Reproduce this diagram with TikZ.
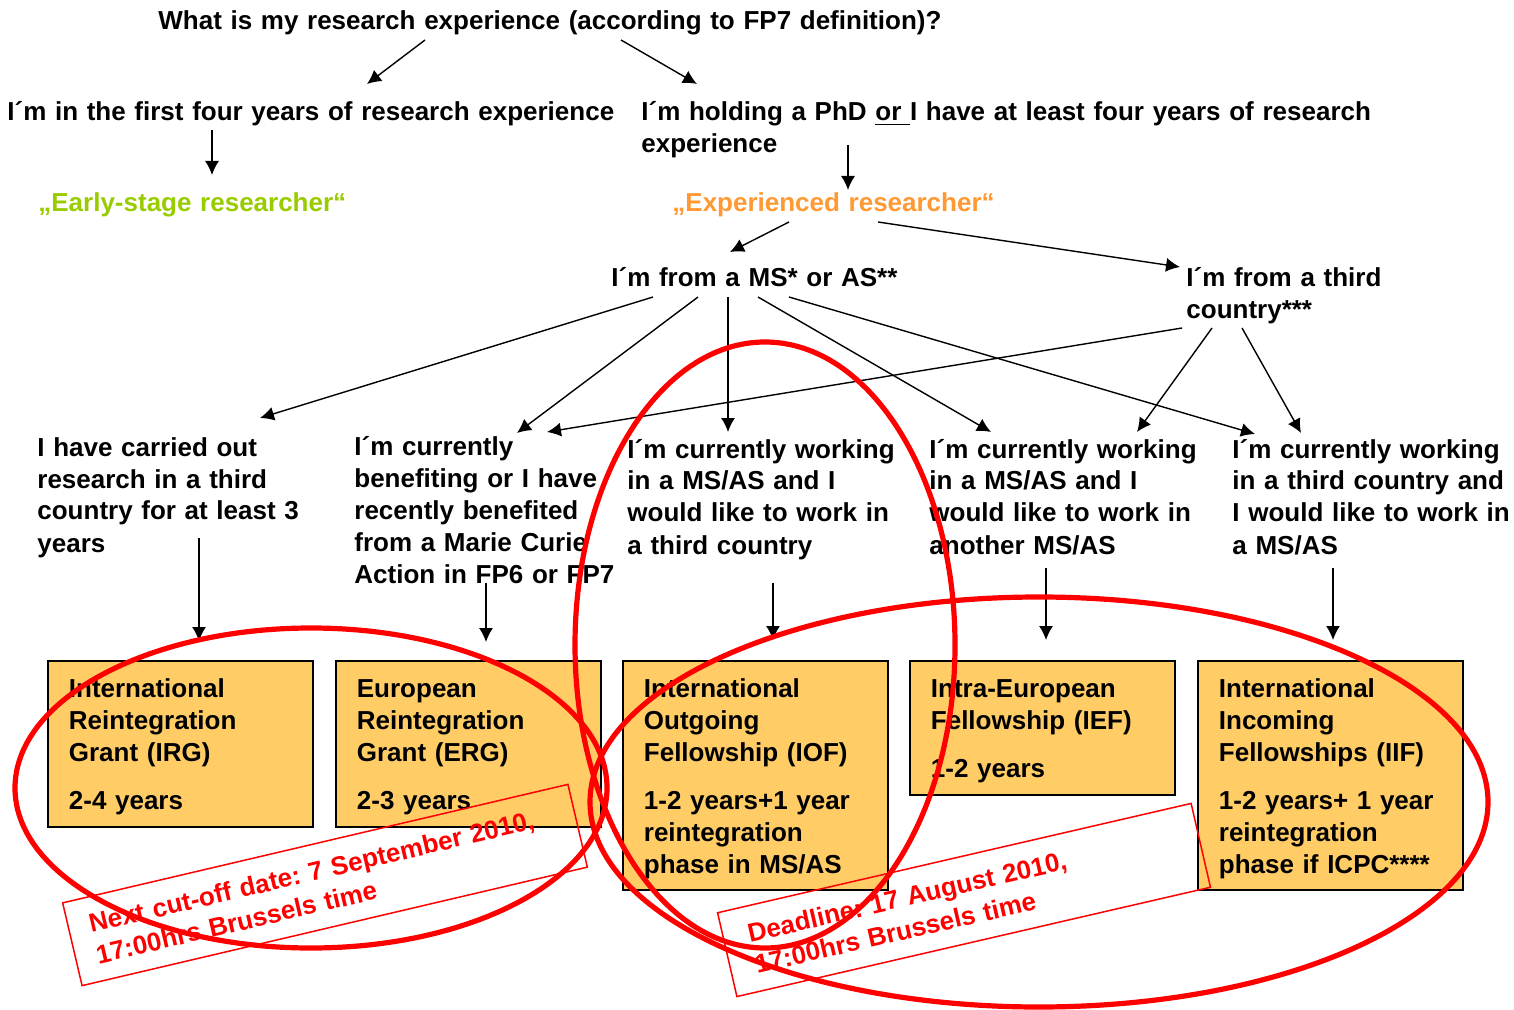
\documentclass[tikz,border=0pt]{standalone}
\usepackage{fontspec}
\setmainfont{Liberation Sans}
\usetikzlibrary{arrows.meta}
\frenchspacing
\definecolor{grantfill}{HTML}{FFCC66}
\definecolor{esrgreen}{HTML}{99CC00}
\definecolor{erorange}{HTML}{FF9933}
\tikzset{
  lbl/.style={font=\bfseries\fontsize{13}{16}\selectfont,inner sep=0pt,anchor=base west,align=left,text width=#1},
  lbl/.default=330pt,
  grant/.style={draw=black,line width=0.9pt,fill=grantfill,font=\bfseries\fontsize{13}{16}\selectfont,
    anchor=north west,inner xsep=10.5pt,inner ysep=0pt,text width=111.5pt,text height=18.5pt,align=left},
  link/.style={->,line width=0.7pt},
  ring/.style={draw=red,line width=2.6pt},
  notice/.style={draw=red,line width=0.75pt,text=red,font=\bfseries\fontsize{13}{16}\selectfont,align=left}
}
\begin{document}
\begin{tikzpicture}[x=0.5pt,y=-0.5pt,>={Latex[length=7pt,width=7pt]}]
  \useasboundingbox (0,0) rectangle (1514,1010);
  % questions
  \node[lbl=400pt] (title) at (158,30) {What is my research experience (according to FP7 definition)?};
  \node[lbl] (first) at (7,121) {I´m in the first four years of research experience};
  \node[lbl=380pt] (phd) at (641,121) {I´m holding a PhD \underline{or\ }I have at least four years of research\\experience};
  \node[lbl,text=esrgreen] (early) at (38,212) {„Early-stage researcher“};
  \node[lbl,text=erorange] (exper) at (672,212) {„Experienced researcher“};
  \node[lbl] (ms) at (611,287) {I´m from a MS* or AS**};
  \node[lbl] (third) at (1186,287) {I´m from a third\\country***};
  \node[lbl] (abroad) at (37,456) {I have carried out\\research in a third\\country for at least 3\\years};
  \node[lbl] (mcfellow) at (354,455) {I´m currently\\benefiting or I have\\recently benefited\\from a Marie Curie\\Action in FP6 or FP7};
  \node[lbl] (outgoing) at (627,458) {I´m currently working\\in a MS/AS and I\\would like to work in\\a third country};
  \node[lbl] (intra) at (929,458) {I´m currently working\\in a MS/AS and I\\would like to work in\\another MS/AS};
  \node[lbl] (incoming) at (1232,458) {I´m currently working\\in a third country and\\I would like to work in\\a MS/AS};
  % grants
  \node[grant,text depth=64.5pt] (irg) at (47,660) {International\\Reintegration\\Grant (IRG)\\[8pt]2-4 years};
  \node[grant,text depth=64.5pt] (erg) at (335,660) {European\\Reintegration\\Grant (ERG)\\[8pt]2-3 years};
  \node[grant,text depth=96pt] (iof) at (622,660) {International\\Outgoing\\Fellowship (IOF)\\[8pt]1-2 years+1 year\\reintegration\\phase in MS/AS};
  \node[grant,text depth=48.5pt] (ief) at (909,660) {Intra-European\\Fellowship (IEF)\\[8pt]1-2 years};
  \node[grant,text depth=96pt] (iif) at (1197,660) {International\\Incoming\\Fellowships (IIF)\\[8pt]1-2 years+ 1 year\\reintegration\\phase if ICPC****};
  % arrows
  \draw[link] ([xshift=133.5pt,yshift=-5pt]title.base west) -- ([xshift=180pt,yshift=18.5pt]first.base west);
  \draw[link] ([xshift=231.5pt,yshift=-5pt]title.base west) -- ([xshift=28pt,yshift=18.5pt]phd.base west);
  \draw[link] ([xshift=102.5pt,yshift=-4.5pt]first.base west) -- ([xshift=87pt,yshift=18.5pt]early.base west);
  \draw[link] ([xshift=103.5pt,yshift=-12pt]phd.base west) -- ([xshift=88pt,yshift=11pt]exper.base west);
  \draw[link] ([xshift=58.5pt,yshift=-5pt]exper.base west) -- ([xshift=59.5pt,yshift=17.5pt]ms.base west);
  \draw[link] ([xshift=103pt,yshift=-5pt]exper.base west) -- ([xshift=-3pt,yshift=10pt]third.base west);
  \draw[link] ([xshift=21pt,yshift=-5pt]ms.base west) -- ([xshift=111.5pt,yshift=19pt]abroad.base west);
  \draw[link] ([xshift=43.5pt,yshift=-5pt]ms.base west) -- ([xshift=81.5pt,yshift=11pt]mcfellow.base west);
  \draw[link] ([xshift=58.5pt,yshift=-5pt]ms.base west) -- ([xshift=50.5pt,yshift=13pt]outgoing.base west);
  \draw[link] ([xshift=73.5pt,yshift=-5pt]ms.base west) -- ([xshift=31pt,yshift=13pt]intra.base west);
  \draw[link] ([xshift=89pt,yshift=-5pt]ms.base west) -- ([xshift=11.5pt,yshift=12pt]incoming.base west);
  \draw[link] ([xshift=-2pt,yshift=-20.5pt]third.base west) -- ([xshift=96.5pt,yshift=11.5pt]mcfellow.base west);
  \draw[link] ([xshift=13pt,yshift=-20.5pt]third.base west) -- ([xshift=104pt,yshift=13pt]intra.base west);
  \draw[link] ([xshift=28pt,yshift=-20.5pt]third.base west) -- ([xshift=34.5pt,yshift=12.5pt]incoming.base west);
  \draw[link] ([xshift=81pt,yshift=-41pt]abroad.base west) -- ([xshift=76pt,yshift=9.5pt]irg.north west);
  \draw[link] ([xshift=66pt,yshift=-64pt]mcfellow.base west) -- ([xshift=75.5pt,yshift=9pt]erg.north west);
  \draw[link] ([xshift=73pt,yshift=-62.5pt]outgoing.base west) -- ([xshift=75.5pt,yshift=10pt]iof.north west);
  \draw[link] ([xshift=58.5pt,yshift=-55pt]intra.base west) -- ([xshift=68.5pt,yshift=10pt]ief.north west);
  \draw[link] ([xshift=50.5pt,yshift=-55pt]incoming.base west) -- ([xshift=68pt,yshift=10pt]iif.north west);
  % dates
  \node[notice,rotate=13.2,text width=238.5pt,inner xsep=10.5pt,minimum height=42.5pt] (cutoff) at (325,885)
    {Next cut-off date: 7 September 2010,\\17:00hrs Brussels time};
  \node[notice,rotate=13,text width=218pt,inner xsep=12.5pt,minimum height=43pt] (deadline) at (964,900)
    {Deadline: 17 August 2010,\\17:00hrs Brussels time};
  % red rings
  \draw[ring] (311,788) ellipse [x radius=296,y radius=160];
  \draw[ring] (765,645) ellipse [x radius=190,y radius=303];
  \draw[ring] (1039,802) ellipse [x radius=449,y radius=205];
\end{tikzpicture}
\end{document}
